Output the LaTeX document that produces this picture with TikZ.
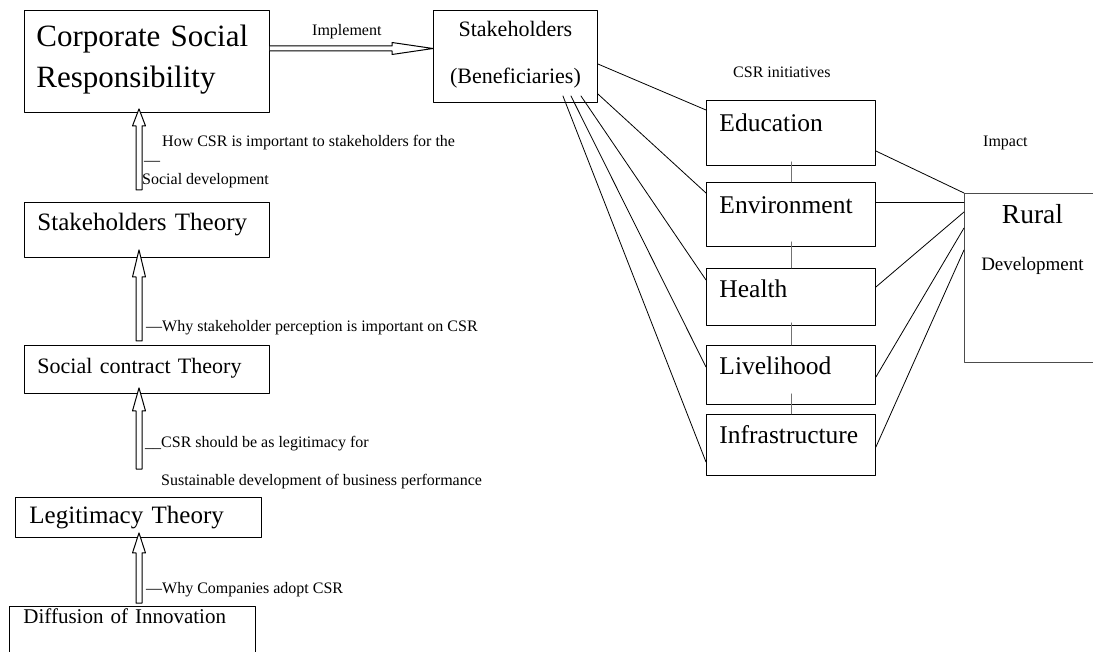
\documentclass[tikz,border=0pt]{standalone}
\usepackage{fontspec}
\setmainfont{Liberation Serif}
\usetikzlibrary{calc}

\begin{document}
\begin{tikzpicture}[x=1pt,y=-1pt,line cap=round,line join=round,
  box/.style={draw,line width=0.9pt,anchor=north west,inner ysep=0pt,align=left},
  note/.style={anchor=base west,inner sep=0pt,font=\fontsize{16}{19}\selectfont},
  link/.style={line width=0.8pt},
  riser/.style={line width=0.8pt,draw=black!55},
  hollow/.style={line width=1pt,fill=white}]
  \useasboundingbox (0,0) rectangle (1093,652);
  \clip (0,0) rectangle (1093,652);
  % theory chain
  \node[box,inner xsep=12pt,text width=221pt,text height=36pt,text depth=66pt,font=\fontsize{31}{41}\selectfont] (csr) at (24,10) {Corporate Social\\Responsibility};
  \node[box,inner xsep=13pt,text width=219pt,text height=28pt,text depth=27pt,font=\fontsize{25}{30}\selectfont] (sht) at (24,202) {Stakeholders Theory};
  \node[box,inner xsep=13pt,text width=219pt,text height=28pt,text depth=20pt,font=\fontsize{22}{26}\selectfont] (sct) at (24,345) {Social contract Theory};
  \node[box,inner xsep=14pt,text width=218pt,text height=26pt,text depth=14pt,font=\fontsize{25}{30}\selectfont] (lt) at (15,497) {Legitimacy Theory};
  \node[box,inner xsep=14pt,text width=218pt,text height=17pt,text depth=80pt,font=\fontsize{21}{25}\selectfont] (dif) at (9,606) {Diffusion of Innovation};
  % stakeholders and initiatives
  \node[box,align=center,inner xsep=4pt,text width=156pt,text height=26pt,text depth=66pt,font=\fontsize{22}{47}\selectfont] (sh) at (433,10) {Stakeholders\\(Beneficiaries)};
  \node[box,inner xsep=13pt,text width=143pt,text height=31pt,text depth=34pt,font=\fontsize{25.5}{30}\selectfont] (edu) at (706,100) {Education};
  \node[box,inner xsep=13pt,text width=143pt,text height=31pt,text depth=33pt,font=\fontsize{25.5}{30}\selectfont] (env) at (706,182) {Environment};
  \node[box,inner xsep=13pt,text width=143pt,text height=29pt,text depth=28pt,font=\fontsize{25.5}{30}\selectfont] (hea) at (706,268) {Health};
  \node[box,inner xsep=13pt,text width=143pt,text height=29pt,text depth=30pt,font=\fontsize{25.5}{30}\selectfont] (liv) at (706,345) {Livelihood};
  \node[box,inner xsep=13pt,text width=143pt,text height=29pt,text depth=32pt,font=\fontsize{25.5}{30}\selectfont] (inf) at (706,414) {Infrastructure};
  \node[box,draw=black!70,align=center,inner xsep=4pt,text width=128pt,text height=30pt,text depth=139pt,font=\fontsize{19}{23}\selectfont] (rur) at (964,193) {{\fontsize{27.5}{33}\selectfont Rural}\\[24pt]Development};
  % labels
  \node[note] (implement) at (312,36) {Implement};
  \node[note] (how) at (162,147) {How CSR is important to stakeholders for the};
  \node[note] (howdash) at (144,166) {---};
  \node[note] (socdev) at (142,185) {Social development};
  \node[note] (why1) at (146,332) {---Why stakeholder perception is important on CSR};
  \node[note] (legit) at (145,447) {\_\_CSR should be as legitimacy for};
  \node[note] (sust) at (161,485) {Sustainable development of business performance};
  \node[note] (why2) at (146,593) {---Why Companies adopt CSR};
  \node[note] (initiatives) at (733,78) {CSR initiatives};
  \node[note] (impact) at (983,147) {Impact};
  % hollow arrows
  \coordinate (t1) at ($(csr.south west)+(115,-4)$);
  \coordinate (b1) at ($(sht.north west)+(115,-12)$);
  \coordinate (t2) at ($(sht.south west)+(115,-8)$);
  \coordinate (b2) at ($(sct.north west)+(115,-4)$);
  \coordinate (t3) at ($(sct.south west)+(115,-6)$);
  \coordinate (b3) at ($(lt.north west)+(124,-28)$);
  \coordinate (t4) at ($(lt.south west)+(124,-5)$);
  \coordinate (b4) at ($(dif.north west)+(130,-3)$);
  \foreach \t/\b/\h in {t1/b1/17,t2/b2/27,t3/b3/23,t4/b4/20}
    \draw[hollow] ($(\b)+(-3,0)$) -- ($(\t)+(-3,\h)$) -- ($(\t)+(-6.5,\h)$) -- (\t)
      -- ($(\t)+(6.5,\h)$) -- ($(\t)+(3,\h)$) -- ($(\b)+(3,0)$) -- cycle;
  \coordinate (impS) at ($(csr.north east)+(0,38.5)$);
  \coordinate (impT) at ($(sh.north west)+(0,38.5)$);
  \draw[hollow] ($(impS)+(0,-2.5)$) -- ($(impT)+(-41,-2.5)$) -- ($(impT)+(-41,-6)$) -- (impT)
    -- ($(impT)+(-41,6)$) -- ($(impT)+(-41,2.5)$) -- ($(impS)+(0,2.5)$);
  % stakeholders to initiatives
  \draw[link] ($(sh.north east)+(0,54)$) -- ($(edu.north west)+(0,10)$);
  \draw[link] ($(sh.north east)+(0,84)$) -- ($(env.north west)+(0,11)$);
  \draw[link] ($(sh.south east)+(-17,-7)$) -- ($(hea.north west)+(0,12)$);
  \draw[link] ($(sh.south east)+(-27,-7)$) -- ($(liv.north west)+(0,22)$);
  \draw[link] ($(sh.south east)+(-35,-7)$) -- ($(inf.north west)+(0,48)$);
  % initiatives chain
  \draw[riser] ($(edu.south)+(0,-4)$) -- (env.north);
  \draw[riser] ($(env.south)+(0,-5)$) -- (hea.north);
  \draw[riser] ($(hea.south)+(0,-3)$) -- (liv.north);
  \draw[riser] ($(liv.south)+(0,-11)$) -- (inf.north);
  % impact on rural development
  \draw[link] ($(edu.north east)+(0,51)$) -- (rur.north west);
  \draw[link] ($(env.north east)+(0,20)$) -- ($(rur.north west)+(0,9)$);
  \draw[link] ($(hea.north east)+(0,19)$) -- ($(rur.north west)+(0,19)$);
  \draw[link] ($(liv.north east)+(0,32)$) -- ($(rur.north west)+(0,35)$);
  \draw[link] ($(inf.north east)+(0,33)$) -- ($(rur.north west)+(0,57)$);
\end{tikzpicture}
\end{document}
